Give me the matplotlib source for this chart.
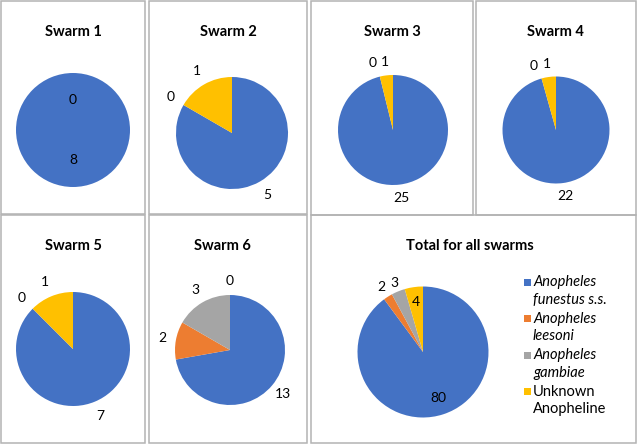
import matplotlib.pyplot as plt
from matplotlib.patches import Rectangle
import numpy as np

W, H = 640, 445

SPECIES = ["Anopheles funestus s.s.", "Anopheles leesoni", "Anopheles gambiae", "Unknown Anopheline"]
ITALIC = [True, True, True, False]
COLORS = ["#4472C4", "#ED7D31", "#A5A5A5", "#FFC000"]

# counts per swarm, order as SPECIES; None = no data label shown
SWARM_1 = [8, None, None, 0]
SWARM_2 = [5, None, 0, 1]
SWARM_3 = [25, None, 0, 1]
SWARM_4 = [22, None, 0, 1]
SWARM_5 = [7, None, 0, 1]
SWARM_6 = [13, 2, 3, 0]
TOTAL = [80, 2, 3, 4]

TITLES = ["Swarm 1", "Swarm 2", "Swarm 3", "Swarm 4", "Swarm 5", "Swarm 6", "Total for all swarms"]
SERIES = [SWARM_1, SWARM_2, SWARM_3, SWARM_4, SWARM_5, SWARM_6, TOTAL]

# layout in pixels: panel box, title position, pie centre and radius, label distances
PANELS = [(1, 1, 145, 214), (149, 1, 307, 214), (311, 1, 473, 215), (476, 1, 636, 215),
          (1, 215, 145, 443), (149, 215, 307, 443), (311, 215, 636, 443)]
TITLE_POS = [(73, 32), (228, 32), (392, 32), (555, 32), (73, 246), (222, 246), (470, 246)]
PIE_POS = [(73, 130, 57), (232, 133, 56), (393, 130, 55), (556, 130, 53.5),
           (73, 349, 57), (230, 350, 55), (423, 352, 65.5)]
LABEL_DIST = [[0.52, 0.52, 0.52, 0.52], [1.27] * 4, [1.25] * 4, [1.25] * 4,
              [1.27] * 4, [1.25] * 4, [0.74, 1.18, 1.14, 0.77]]
# small horizontal nudges (px) where labels would collide
LABEL_NUDGE = [[0] * 4, [0] * 4, [0, 0, -4, 0], [0, 0, -4, 0], [0] * 4, [0] * 4, [0] * 4]

FONT = "Lato"
plt.rcParams["font.family"] = [FONT, "DejaVu Sans"]

fig = plt.figure(figsize=(W / 100, H / 100), dpi=100)

for (x0, y0, x1, y1) in PANELS:
    fig.patches.append(Rectangle((x0 / W, 1 - y1 / H), (x1 - x0) / W, (y1 - y0) / H,
                                 transform=fig.transFigure, fill=False,
                                 edgecolor="#b3b3b3", linewidth=1.1))

for title, (tx, ty) in zip(TITLES, TITLE_POS):
    fig.text(tx / W, 1 - ty / H, title, ha="center", va="center",
             fontsize=10.5, fontweight="bold", color="black")

for vals, (cx, cy, r), dists, nudges in zip(SERIES, PIE_POS, LABEL_DIST, LABEL_NUDGE):
    ax = fig.add_axes([(cx - r) / W, 1 - (cy + r) / H, 2 * r / W, 2 * r / H])
    drawn = [v if v is not None else 0 for v in vals]
    wedges, _ = ax.pie(drawn, colors=COLORS, radius=1, startangle=90, counterclock=False,
                       wedgeprops=dict(linewidth=0))
    for w, v, d, nx in zip(wedges, vals, dists, nudges):
        if v is None:
            continue
        mid = np.deg2rad((w.theta1 + w.theta2) / 2)
        ax.text(d * np.cos(mid) + nx / r, d * np.sin(mid), str(v), ha="center", va="center",
                fontsize=10, color="black", clip_on=False)
    ax.set_xlim(-1, 1)
    ax.set_ylim(-1, 1)
    ax.axis("off")

# legend
leg_x, leg_y0, leg_step, line_gap = 527, 282, 36.5, 18
for i, (name, col, it) in enumerate(zip(SPECIES, COLORS, ITALIC)):
    y = leg_y0 + i * leg_step
    fig.patches.append(Rectangle(((leg_x - 3.5) / W, 1 - (y + 3.5) / H), 7 / W, 7 / H,
                                 transform=fig.transFigure, facecolor=col, edgecolor="none"))
    first, second = name.split(" ", 1)
    for k, part in enumerate([first, second]):
        fig.text((leg_x + 6) / W, 1 - (y + k * line_gap) / H, part, ha="left", va="center",
                 fontsize=10.5, fontstyle="italic" if it else "normal", color="black")

fig.savefig("out.png", dpi=100)
